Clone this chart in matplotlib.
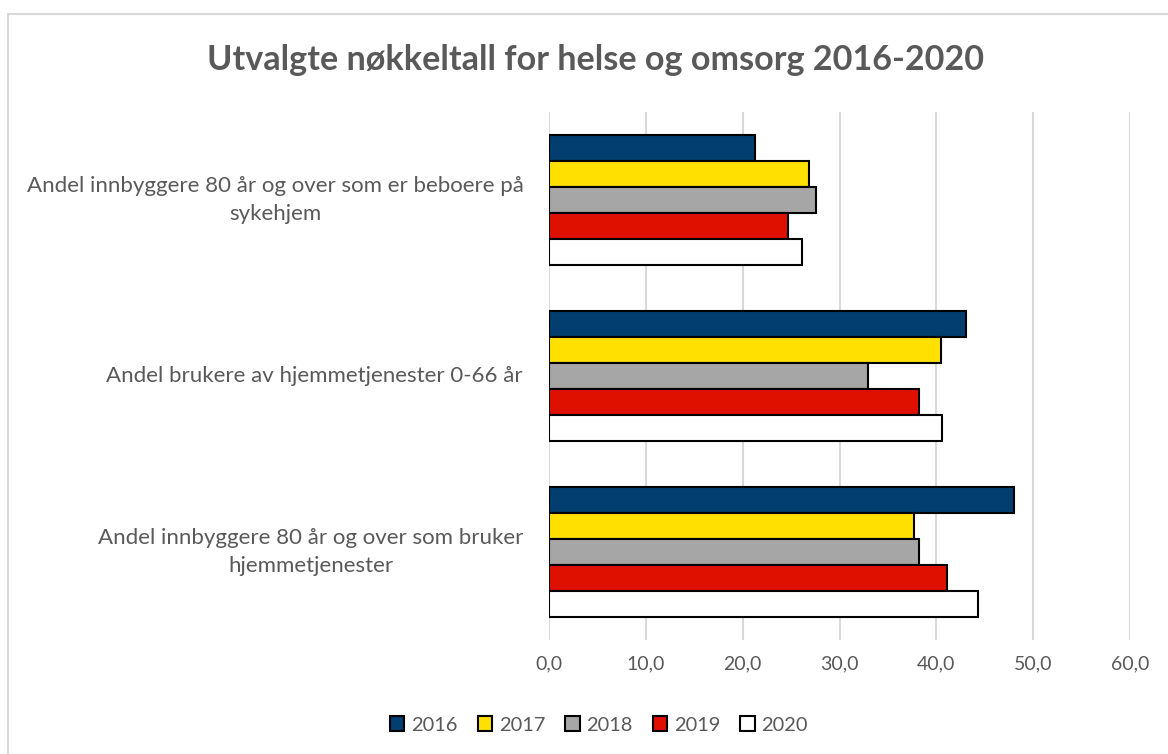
import numpy as np
import matplotlib.pyplot as plt
from matplotlib.patches import Rectangle
from matplotlib.transforms import blended_transform_factory

categories = [
    "Andel innbyggere 80 år og over som er beboere på\nsykehjem",
    "Andel brukere av hjemmetjenester 0-66 år",
    "Andel innbyggere 80 år og over som bruker\nhjemmetjenester",
]
years = ["2016", "2017", "2018", "2019", "2020"]
values = {
    "2016": [21.3, 43.1, 48.0],
    "2017": [26.9, 40.5, 37.7],
    "2018": [27.6, 32.9, 38.2],
    "2019": [24.7, 38.2, 41.1],
    "2020": [26.1, 40.6, 44.3],
}
colors = ["#023E6F", "#FFE000", "#A6A6A6", "#E01000", "#FFFFFF"]
ticks = [0, 10, 20, 30, 40, 50, 60]

plt.rcParams["font.family"] = ["Lato", "DejaVu Sans"]
text_color = "#595959"

fig = plt.figure(figsize=(11.68, 7.54), dpi=100)
W, H = 1168, 754
ax = fig.add_axes([549 / W, 1 - 640 / H, (1130 - 549) / W, (640 - 112) / H])

# outer chart border
fig.patches.append(Rectangle((8 / W, -0.05), 1.1, 1 - 14 / H + 0.05,
                             transform=fig.transFigure, fill=False,
                             edgecolor="#D9D9D9", linewidth=1.5))

bar_h = 0.148
y = np.arange(len(categories))
for i, yr in enumerate(years):
    offs = (i - 2) * bar_h
    ax.barh(y + offs, values[yr], height=bar_h, color=colors[i],
            edgecolor="black", linewidth=1.5, label=yr, zorder=3)

ax.set_ylim(2.5, -0.5)
ax.set_xlim(0, 60)
ax.set_xticks(ticks)
ax.set_xticklabels([f"{t:.1f}".replace(".", ",") for t in ticks])
ax.set_yticks([])

# category labels, centred like Excel's wrapped labels
label_x = [275, 314, 311]
trans = blended_transform_factory(fig.transFigure, ax.transData)
for yi, cat, lx in zip(y, categories, label_x):
    ax.text(lx / W, yi, cat, transform=trans, ha="center", va="center",
            fontsize=16, color=text_color, linespacing=1.55)

ax.grid(axis="x", color="#D9D9D9", linewidth=1.5, zorder=0)
for s in ax.spines.values():
    s.set_visible(False)
ax.tick_params(axis="both", length=0, labelsize=14, colors=text_color, pad=11)

fig.text(596 / W, 1 - 60 / H, "Utvalgte nøkkeltall for helse og omsorg 2016-2020",
         ha="center", va="center", fontsize=24.6, fontweight="bold", color=text_color)

leg = fig.legend(loc="center", bbox_to_anchor=(599 / W, 1 - 725 / H), ncol=5,
                 frameon=False, fontsize=14.4, handlelength=0.72, handleheight=0.72,
                 handletextpad=0.34, columnspacing=1.0)
for t in leg.get_texts():
    t.set_color(text_color)

fig.savefig("out.png", dpi=100)
